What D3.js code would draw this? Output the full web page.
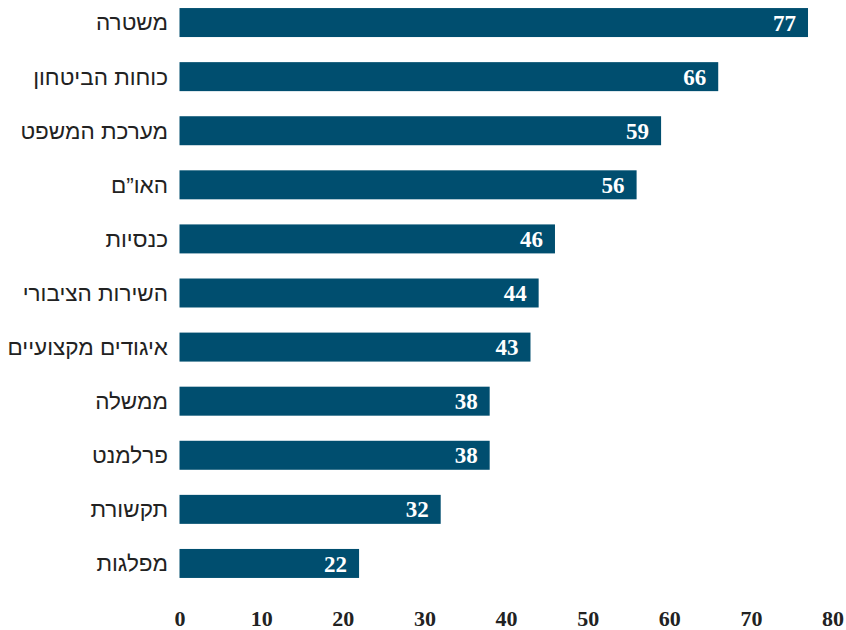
<!DOCTYPE html>
<html><head><meta charset="utf-8">
<script src="https://cdn.jsdelivr.net/npm/d3@7"></script>
<style>body{margin:0;background:#fff}</style>
</head><body>
<svg id="c" width="846" height="630"></svg>
<script>
const categories = ["משטרה","כוחות הביטחון","מערכת המשפט","האו\u201dם","כנסיות","השירות הציבורי","איגודים מקצועיים","ממשלה","פרלמנט","תקשורת","מפלגות"];
const values = [77,66,59,56,46,44,43,38,38,32,22];
const ticks = [0,10,20,30,40,50,60,70,80];

const svg = d3.select("#c");
const x = d3.scaleLinear().domain([0,80]).range([179.5,832.5]);
const y = d3.scaleBand().domain(categories).range([-4.5,590.5]).paddingInner(0.464).paddingOuter(0.232);

svg.selectAll("rect.bar").data(values).join("rect")
  .attr("x", x(0)).attr("y",(d,i)=>y(categories[i]))
  .attr("width", d=>x(d)-x(0)).attr("height", y.bandwidth())
  .attr("fill","#004e6f");

svg.selectAll("text.val").data(values).join("text")
  .attr("x", d=>x(d)-12).attr("y",(d,i)=>y(categories[i])+y.bandwidth()/2)
  .attr("dy","0.35em").attr("text-anchor","end")
  .attr("fill","#fff").attr("font-family","'Liberation Serif',serif")
  .attr("font-weight","bold").attr("font-size","23px").text(d=>d);

svg.selectAll("text.cat").data(categories).join("text")
  .attr("x",168).attr("y",d=>y(d)+y.bandwidth()/2)
  .attr("dy","0.35em").attr("text-anchor","end")
  .attr("fill","#222").attr("font-family","'Liberation Sans',Arial,sans-serif")
  .attr("font-size","22.5px").text(d=>d);

const ax = svg.append("g").attr("transform","translate(0,610)")
  .call(d3.axisBottom(x).tickValues(ticks).tickSize(0).tickPadding(0).tickFormat(d3.format("d")));
ax.select(".domain").remove();
ax.selectAll("text").attr("fill","#222").attr("font-family","'Liberation Serif',serif")
  .attr("font-weight","bold").attr("font-size","22px");
</script>
</body></html>
